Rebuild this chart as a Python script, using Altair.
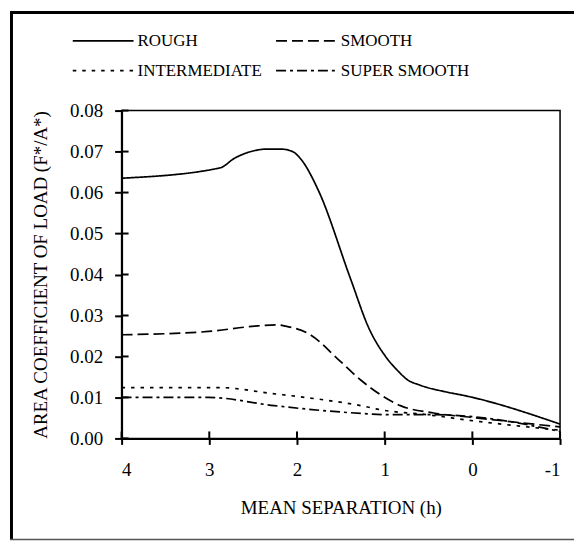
import altair as alt
import pandas as pd

# ---------------- data ----------------
series_names = ["ROUGH", "SMOOTH", "INTERMEDIATE", "SUPER SMOOTH"]

rough_h = [4.0, 2.88, 2.71, 2.49, 2.35, 2.18, 2.05, 1.95, 1.76, 1.39, 1.18, 0.99, 0.85, 0.74, 0.61, 0.29, 0.10, -1.0]
rough_v = [0.0635, 0.0660, 0.0684, 0.0702, 0.0706, 0.0706, 0.0700, 0.0680, 0.0607, 0.0390, 0.0269, 0.0200, 0.0165, 0.0143, 0.0131, 0.0113, 0.0105, 0.0035]

smooth_h = [4.0, 3.01, 2.48, 2.22, 2.13, 1.84, 1.54, 1.27, 1.05, 0.82, 0.44, -0.01, -1.0]
smooth_v = [0.0253, 0.0261, 0.0274, 0.0277, 0.0274, 0.0252, 0.0195, 0.0142, 0.0107, 0.0080, 0.0062, 0.0051, 0.0028]

inter_h = [4.0, 2.88, 2.30, 1.69, 1.27, 1.05, 0.52, -0.01, -1.0]
inter_v = [0.0124, 0.0124, 0.0110, 0.0094, 0.0080, 0.0070, 0.0058, 0.0043, 0.0020]

super_h = [4.0, 3.01, 2.26, 1.65, 1.27, 1.00, 0.52, -0.01, -1.0]
super_v = [0.0100, 0.0100, 0.0080, 0.0067, 0.0061, 0.0058, 0.0058, 0.0053, 0.0017]

x_ticks = [4, 3, 2, 1, 0, -1]
y_ticks = [0.00, 0.01, 0.02, 0.03, 0.04, 0.05, 0.06, 0.07, 0.08]

x_title = "MEAN SEPARATION (h)"
y_title = "AREA COEFFICIENT OF LOAD (F*/A*)"

# ---------------- styling ----------------
dash_patterns = [[1, 0], [11, 5], [3.5, 6], [10, 4, 3, 4]]
FONT = "Liberation Serif"
W, H = 440, 329

rows = []
for name, hs, vs in zip(series_names,
                        [rough_h, smooth_h, inter_h, super_h],
                        [rough_v, smooth_v, inter_v, super_v]):
    for h, v in zip(hs, vs):
        rows.append({"series": name, "h": h, "v": v})
df = pd.DataFrame(rows)

x_scale = alt.Scale(domain=[-1, 4], reverse=True, nice=False, zero=False)
y_scale = alt.Scale(domain=[0, 0.08], nice=False, zero=True)
dash_scale = alt.Scale(domain=series_names, range=dash_patterns)

x_axis = alt.Axis(values=x_ticks, labelExpr="'' + datum.value", title=x_title,
                  grid=False, domainColor="black", domainWidth=2,
                  tickColor="black", tickWidth=2, tickSize=6,
                  labelFont=FONT, labelFontSize=19, labelColor="black", labelPadding=16,
                  titleFont=FONT, titleFontSize=19, titleFontWeight="normal",
                  titleColor="black", titlePadding=19)
y_axis = alt.Axis(values=y_ticks, format=".2f", title=y_title,
                  grid=False, domainColor="black", domainWidth=2,
                  tickColor="black", tickWidth=2, tickSize=7,
                  labelFont=FONT, labelFontSize=19, labelColor="black", labelPadding=12,
                  titleFont=FONT, titleFontSize=19, titleFontWeight="normal",
                  titleColor="black", titlePadding=19)

lines = alt.Chart(df).mark_line(color="black", strokeWidth=1.7, interpolate="monotone").encode(
    x=alt.X("h:Q", scale=x_scale, axis=x_axis),
    y=alt.Y("v:Q", scale=y_scale, axis=y_axis),
    strokeDash=alt.StrokeDash("series:N", scale=dash_scale, legend=None),
    detail="series:N",
)

# inner halves of the crossing ticks
ytick_in = alt.Chart(pd.DataFrame({"v": y_ticks})).mark_rule(color="black", strokeWidth=2).encode(
    y=alt.Y("v:Q", scale=y_scale, axis=y_axis),
    x=alt.value(0), x2=alt.value(7),
)
xtick_in = alt.Chart(pd.DataFrame({"h": x_ticks})).mark_rule(color="black", strokeWidth=2).encode(
    x=alt.X("h:Q", scale=x_scale, axis=x_axis),
    y=alt.value(H), y2=alt.value(H - 7),
)

layers = [lines, ytick_in, xtick_in]

# manual legend (2 columns x 2 rows)
one = pd.DataFrame({"k": [0]})
for i, name in enumerate(series_names):
    col, row = i % 2, i // 2
    x0 = -49 + col * 204
    ly = -70 + row * 30
    layers.append(
        alt.Chart(one).mark_rule(color="black", strokeWidth=1.7,
                                 strokeDash=dash_patterns[i]).encode(
            x=alt.value(x0), x2=alt.value(x0 + 61), y=alt.value(ly))
    )
    layers.append(
        alt.Chart(pd.DataFrame({"series": [name]})).mark_text(
            align="left", baseline="middle", font=FONT, fontSize=17, color="black"
        ).encode(x=alt.value(x0 + 65), y=alt.value(ly), text="series:N")
    )

# outer frame
layers.append(alt.Chart(one).mark_rule(color="black", strokeWidth=3).encode(
    x=alt.value(-110.5), y=alt.value(-100), y2=alt.value(431)))
layers.append(alt.Chart(one).mark_rule(color="black", strokeWidth=3).encode(
    y=alt.value(-98.5), x=alt.value(-112), x2=alt.value(454)))
layers.append(alt.Chart(one).mark_rule(color="#555555", strokeWidth=1.5).encode(
    y=alt.value(430.5), x=alt.value(-112), x2=alt.value(454)))

chart = alt.layer(*layers).properties(
    width=W, height=H, padding=0, background="white"
).configure_view(stroke="black", strokeWidth=1.5)

chart.save("out.html", embed_options={"renderer": "svg", "actions": False})
